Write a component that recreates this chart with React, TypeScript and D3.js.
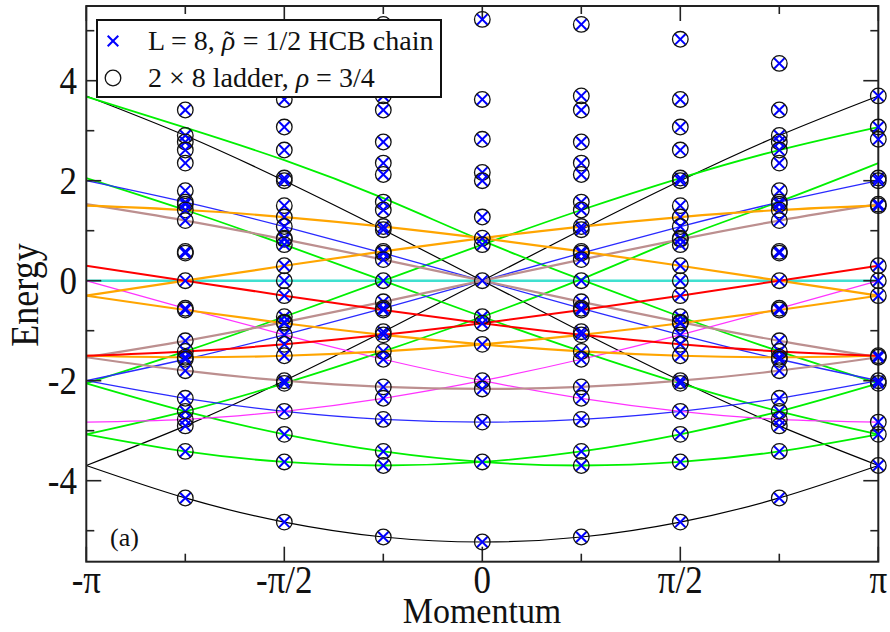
import React from 'react';
import * as d3 from 'd3';

// ---------- data ----------
// momentum in units of pi
const lineMomenta = [-1, -0.75, -0.5, -0.25, 0, 0.25, 0.5, 0.75, 1];

// spectrum (energies) at each momentum column
const energiesK0 = [5.226, 3.625, 2.828, 2.165, 2.0, 1.273, 0.851, 0.721, 0, -0.721, -0.851, -1.273, -2.0, -2.165, -2.828, -3.625, -5.226];
const energiesQuarter = [5.126, 3.696, 3.414, 2.774, 2.352, 2.124, 1.572, 1.414, 1.083, 1.02, 0.586, 0.552, 0.422, 0, -0.422, -0.552, -0.586, -1.02, -1.083, -1.414, -1.572, -2.124, -2.352, -2.774, -3.414, -3.696, -5.126];
const energiesHalf = [4.828, 3.625, 3.073, 2.613, 2.053, 2.0, 1.501, 1.273, 1.083, 0.851, 0.828, 0.721, 0.299, 0, -0.299, -0.721, -0.828, -0.851, -1.083, -1.273, -1.501, -2.0, -2.053, -2.613, -3.073, -3.625, -4.828];
const energiesThreeQuarter = [4.346, 3.414, 2.904, 2.774, 2.613, 2.352, 1.8, 1.572, 1.531, 1.414, 1.202, 0.586, 0.552, 0, -0.552, -0.586, -1.202, -1.414, -1.531, -1.572, -1.8, -2.352, -2.613, -2.774, -2.904, -3.414, -4.346];
const energiesPi = [3.696, 3.073, 2.828, 2.053, 2.0, 1.531, 1.501, 0.299, 0, -0.299, -1.501, -1.531, -2.0, -2.053, -2.828, -3.073, -3.696];

const pointColumns = [
  { k: -0.75, e: energiesThreeQuarter },
  { k: -0.5, e: energiesHalf },
  { k: -0.25, e: energiesQuarter },
  { k: 0, e: energiesK0 },
  { k: 0.25, e: energiesQuarter },
  { k: 0.5, e: energiesHalf },
  { k: 0.75, e: energiesThreeQuarter },
  { k: 1, e: energiesPi },
];

// guide lines, values at lineMomenta
const cyanLine = [0, 0, 0, 0, 0, 0, 0, 0, 0];
const blackLines = [
  [-3.695, -4.345, -4.828, -5.126, -5.226, -5.126, -4.828, -4.345, -3.695],
  [-3.695, -2.904, -2.0, -1.02, 0, 1.02, 2.0, 2.904, 3.695],
  [3.695, 2.904, 2.0, 1.02, 0, -1.02, -2.0, -2.904, -3.695],
];
const greenLines = [
  [-2.053, -1.414, -0.721, 0, 0.721, 1.414, 2.053, 2.613, 3.073],
  [2.053, 1.414, 0.721, 0, -0.721, -1.414, -2.053, -2.613, -3.073],
  [-2.053, -2.613, -3.073, -3.414, -3.625, -3.696, -3.625, -3.414, -3.073],
  [-3.073, -3.414, -3.625, -3.696, -3.625, -3.414, -3.073, -2.613, -2.053],
  [3.68, 3.06, 2.41, 1.65, 0.8, 0.02, -0.721, -1.414, -2.053],
  [-3.073, -2.613, -2.053, -1.414, -0.721, 0.03, 0.85, 1.58, 2.35],
];
const blueLines = [
  [-2.0, -2.352, -2.613, -2.774, -2.828, -2.774, -2.613, -2.352, -2.0],
  [-2.0, -1.571, -1.082, -0.552, 0, 0.552, 1.082, 1.571, 2.0],
  [2.0, 1.571, 1.082, 0.552, 0, -0.552, -1.082, -1.571, -2.0],
];
const magentaLines = [
  [-2.828, -2.774, -2.613, -2.352, -2.0, -1.571, -1.082, -0.552, 0],
  [0, -0.552, -1.082, -1.571, -2.0, -2.352, -2.613, -2.774, -2.828],
];
const brownLines = [
  [-1.531, -1.8, -2.0, -2.124, -2.165, -2.124, -2.0, -1.8, -1.531],
  [-1.531, -1.203, -0.828, -0.422, 0, 0.422, 0.828, 1.203, 1.531],
  [1.531, 1.203, 0.828, 0.422, 0, -0.422, -0.828, -1.203, -1.531],
];
const orangeLines = [
  [1.501, 1.414, 1.273, 1.083, 0.851, 0.586, 0.299, 0, -0.299],
  [-0.299, 0, 0.299, 0.586, 0.851, 1.083, 1.273, 1.414, 1.501],
  [-0.299, -0.586, -0.851, -1.083, -1.273, -1.414, -1.501, -1.531, -1.501],
  [-1.501, -1.531, -1.501, -1.414, -1.273, -1.083, -0.851, -0.586, -0.299],
];
const redLines = [
  [0.299, 0, -0.299, -0.586, -0.851, -1.083, -1.273, -1.414, -1.501],
  [-1.501, -1.414, -1.273, -1.083, -0.851, -0.586, -0.299, 0, 0.299],
];

const xMajorTicks = [-1, -0.5, 0, 0.5, 1];
const xMinorTicks = [-0.75, -0.25, 0.25, 0.75];
const xTickLabels = ['-\u03c0', '-\u03c0/2', '0', '\u03c0/2', '\u03c0'];
const yMajorTicks = [-4, -2, 0, 2, 4];
const yMinorTicks = [-5, -3, -1, 1, 3, 5];
const yTickLabels = ['-4', '-2', '0', '2', '4'];

// ---------- layout ----------
const W = 890;
const H = 632;
const X0 = 86.3, X1 = 878.3, Y0 = 6, Y1 = 561.7;
const FONT = '"Liberation Serif", "Times New Roman", Times, serif';

export default function App() {
  const x = d3.scaleLinear().domain([-1, 1]).range([X0, X1]);
  const y = d3.scaleLinear().domain([-5.62, 5.494]).range([Y1, Y0]);
  const line = d3
    .line<number>()
    .x((_, i) => x(lineMomenta[i]))
    .y((d) => y(d))
    .curve(d3.curveNatural);

  const groups: { color: string; width: number; lines: number[][] }[] = [
    { color: '#40e0d0', width: 2.6, lines: [cyanLine] },
    { color: '#000000', width: 1.2, lines: blackLines },
    { color: '#00f000', width: 1.8, lines: greenLines },
    { color: '#2a2aff', width: 1.3, lines: blueLines },
    { color: '#ff33ff', width: 1.2, lines: magentaLines },
    { color: '#bc8f8f', width: 2.2, lines: brownLines },
    { color: '#ffa500', width: 2.2, lines: orangeLines },
    { color: '#ff0000', width: 2.0, lines: redLines },
  ];

  const crossHalf = 5.3;
  const r = 7.8;
  const tickFs = 35;
  const sy = 1.15;

  return (
    <svg
      width={W}
      height={H}
      viewBox={`0 0 ${W} ${H}`}
      style={{ position: 'absolute', left: 0, top: 0, background: '#fff' }}
    >
      <rect x={0} y={0} width={W} height={H} fill="#fff" />
      {groups.map((g, gi) =>
        g.lines.map((vals, li) => (
          <path
            key={`l${gi}-${li}`}
            d={line(vals) || ''}
            fill="none"
            stroke={g.color}
            strokeWidth={g.width}
          />
        ))
      )}
      {/* frame */}
      <rect x={X0} y={Y0} width={X1 - X0} height={Y1 - Y0} fill="none" stroke="#222" strokeWidth={2} />
      {/* ticks */}
      {xMajorTicks.map((t) => (
        <g key={`xM${t}`}>
          <line x1={x(t)} x2={x(t)} y1={Y1} y2={Y1 - 15} stroke="#222" strokeWidth={1.6} />
          <line x1={x(t)} x2={x(t)} y1={Y0} y2={Y0 + 15} stroke="#222" strokeWidth={1.6} />
        </g>
      ))}
      {xMinorTicks.map((t) => (
        <g key={`xm${t}`}>
          <line x1={x(t)} x2={x(t)} y1={Y1} y2={Y1 - 8} stroke="#222" strokeWidth={1.6} />
          <line x1={x(t)} x2={x(t)} y1={Y0} y2={Y0 + 8} stroke="#222" strokeWidth={1.6} />
        </g>
      ))}
      {yMajorTicks.map((t) => (
        <g key={`yM${t}`}>
          <line x1={X0} x2={X0 + 15} y1={y(t)} y2={y(t)} stroke="#222" strokeWidth={1.6} />
          <line x1={X1} x2={X1 - 15} y1={y(t)} y2={y(t)} stroke="#222" strokeWidth={1.6} />
        </g>
      ))}
      {yMinorTicks.map((t) => (
        <g key={`ym${t}`}>
          <line x1={X0} x2={X0 + 8} y1={y(t)} y2={y(t)} stroke="#222" strokeWidth={1.6} />
          <line x1={X1} x2={X1 - 8} y1={y(t)} y2={y(t)} stroke="#222" strokeWidth={1.6} />
        </g>
      ))}
      {/* points */}
      {pointColumns.map((c) =>
        c.e.map((e, i) => (
          <g key={`p${c.k}-${i}`}>
            <line x1={x(c.k) - crossHalf} x2={x(c.k) + crossHalf} y1={y(e) - crossHalf} y2={y(e) + crossHalf} stroke="#0000ff" strokeWidth={2} />
            <line x1={x(c.k) - crossHalf} x2={x(c.k) + crossHalf} y1={y(e) + crossHalf} y2={y(e) - crossHalf} stroke="#0000ff" strokeWidth={2} />
            <circle cx={x(c.k)} cy={y(e)} r={r} fill="none" stroke="#111" strokeWidth={1.3} />
          </g>
        ))
      )}
      {/* legend */}
      <rect x={97} y={20} width={344} height={77} fill="#fff" stroke="#111" strokeWidth={2} />
      <line x1={113 - crossHalf} x2={113 + crossHalf} y1={41 - crossHalf} y2={41 + crossHalf} stroke="#0000ff" strokeWidth={2} />
      <line x1={113 - crossHalf} x2={113 + crossHalf} y1={41 + crossHalf} y2={41 - crossHalf} stroke="#0000ff" strokeWidth={2} />
      <circle cx={113} cy={78} r={r} fill="none" stroke="#111" strokeWidth={1.3} />
      <text x={148} y={50} fontFamily={FONT} fontSize={28} fill="#111">
        L = 8, <tspan fontStyle="italic">{'\u03c1'}</tspan>
        <tspan dx={-11}>{'\u02dc'}</tspan>
        <tspan dx={2}> = 1/2 HCB chain</tspan>
      </text>
      <text x={148} y={87} fontFamily={FONT} fontSize={28} fill="#111">
        2 × 8 ladder, <tspan fontStyle="italic">{'\u03c1'}</tspan> = 3/4
      </text>
      {/* (a) */}
      <text x={110} y={546} fontFamily={FONT} fontSize={26} fill="#111">(a)</text>
      {/* tick labels */}
      {xMajorTicks.map((t, i) => (
        <text
          key={`xl${t}`}
          transform={`translate(${x(t)},593) scale(1,${sy})`}
          textAnchor="middle"
          fontFamily={FONT}
          fontSize={tickFs}
          fill="#111"
        >
          {xTickLabels[i]}
        </text>
      ))}
      {yMajorTicks.map((t, i) => (
        <text
          key={`yl${t}`}
          transform={`translate(77,${y(t) + 13}) scale(1,${sy})`}
          textAnchor="end"
          fontFamily={FONT}
          fontSize={tickFs}
          fill="#111"
        >
          {yTickLabels[i]}
        </text>
      ))}
      <text
        transform={`translate(482,623) scale(1,1.08)`}
        textAnchor="middle"
        fontFamily={FONT}
        fontSize={34}
        fill="#111"
      >
        Momentum
      </text>
      <text
        transform="translate(38,295) rotate(-90) scale(1,1.1)"
        textAnchor="middle"
        fontFamily={FONT}
        fontSize={36}
        fill="#111"
      >
        Energy
      </text>
    </svg>
  );
}
